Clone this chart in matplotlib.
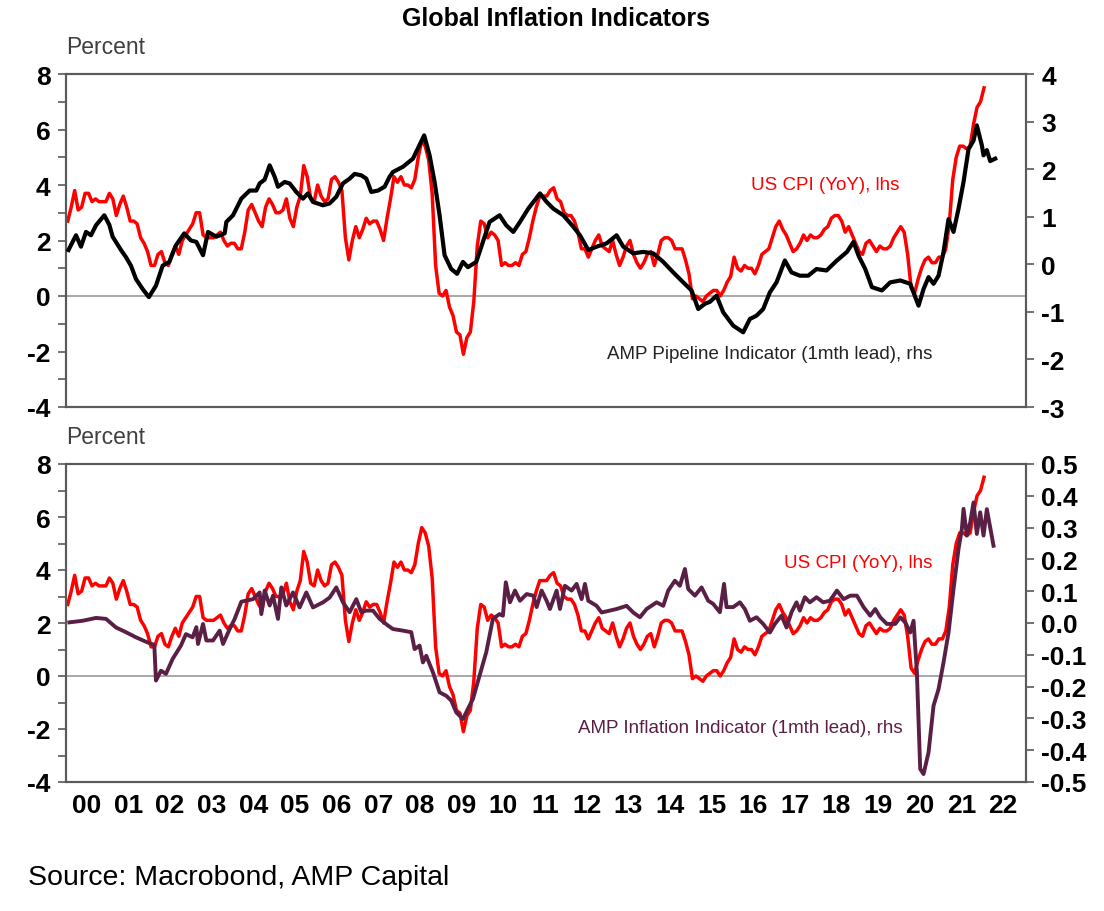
import numpy as np
import matplotlib.pyplot as plt
from matplotlib.ticker import MultipleLocator, FixedLocator, NullFormatter, FuncFormatter

plt.rcParams['font.family'] = ['Liberation Sans', 'DejaVu Sans']
plt.rcParams['axes.unicode_minus'] = False

# US CPI, year-on-year %, monthly from Jan 2000 to Jan 2022 (lhs)
us_cpi = [
    2.7, 3.2, 3.8, 3.1, 3.2, 3.7, 3.7, 3.4, 3.5, 3.4, 3.4, 3.4,
    3.7, 3.5, 2.9, 3.3, 3.6, 3.2, 2.7, 2.7, 2.6, 2.1, 1.9, 1.6,
    1.1, 1.1, 1.5, 1.6, 1.2, 1.1, 1.5, 1.8, 1.5, 2.0, 2.2, 2.4,
    2.6, 3.0, 3.0, 2.2, 2.1, 2.1, 2.1, 2.2, 2.3, 2.0, 1.8, 1.9,
    1.9, 1.7, 1.7, 2.3, 3.1, 3.3, 3.0, 2.7, 2.5, 3.2, 3.5, 3.3,
    3.0, 3.0, 3.1, 3.5, 2.8, 2.5, 3.2, 3.6, 4.7, 4.3, 3.5, 3.4,
    4.0, 3.6, 3.4, 3.5, 4.2, 4.3, 4.1, 3.8, 2.1, 1.3, 2.0, 2.5,
    2.1, 2.4, 2.8, 2.6, 2.7, 2.7, 2.4, 2.0, 2.8, 3.5, 4.3, 4.1,
    4.3, 4.0, 4.0, 3.9, 4.2, 5.0, 5.6, 5.4, 4.9, 3.7, 1.1, 0.1,
    0.0, 0.2, -0.4, -0.7, -1.3, -1.4, -2.1, -1.5, -1.3, -0.2, 1.8, 2.7,
    2.6, 2.1, 2.3, 2.2, 2.0, 1.1, 1.2, 1.1, 1.1, 1.2, 1.1, 1.5,
    1.6, 2.1, 2.7, 3.2, 3.6, 3.6, 3.6, 3.8, 3.9, 3.5, 3.4, 3.0,
    2.9, 2.9, 2.7, 2.3, 1.7, 1.7, 1.4, 1.7, 2.0, 2.2, 1.8, 1.7,
    1.6, 2.0, 1.5, 1.1, 1.4, 1.8, 2.0, 1.5, 1.2, 1.0, 1.2, 1.5,
    1.6, 1.1, 1.5, 2.0, 2.1, 2.1, 2.0, 1.7, 1.7, 1.7, 1.3, 0.8,
    -0.1, 0.0, -0.1, -0.2, 0.0, 0.1, 0.2, 0.2, 0.0, 0.2, 0.5, 0.7,
    1.4, 1.0, 0.9, 1.1, 1.0, 1.0, 0.8, 1.1, 1.5, 1.6, 1.7, 2.1,
    2.5, 2.7, 2.4, 2.2, 1.9, 1.6, 1.7, 1.9, 2.2, 2.0, 2.2, 2.1,
    2.1, 2.2, 2.4, 2.5, 2.8, 2.9, 2.9, 2.7, 2.3, 2.5, 2.2, 1.9,
    1.6, 1.5, 1.9, 2.0, 1.8, 1.6, 1.8, 1.7, 1.7, 1.8, 2.1, 2.3,
    2.5, 2.3, 1.5, 0.3, 0.1, 0.6, 1.0, 1.3, 1.4, 1.2, 1.2, 1.4,
    1.4, 1.7, 2.6, 4.2, 5.0, 5.4, 5.4, 5.3, 5.4, 6.2, 6.8, 7.0,
    7.5,
]

# AMP Pipeline Indicator (1mth lead), rhs of top panel
pipe_x = [
    2000.06, 2000.24, 2000.36, 2000.48, 2000.60, 2000.72, 2000.92, 2001.04, 2001.12, 2001.32,
    2001.44, 2001.56, 2001.68, 2001.84, 2001.99, 2002.16, 2002.32, 2002.48, 2002.64, 2002.84,
    2003.00, 2003.13, 2003.29, 2003.41, 2003.61, 2003.81, 2003.85, 2004.01, 2004.21, 2004.41,
    2004.57, 2004.65, 2004.77, 2004.89, 2005.01, 2005.09, 2005.25, 2005.37, 2005.53, 2005.69,
    2005.81, 2005.93, 2006.17, 2006.33, 2006.49, 2006.65, 2006.81, 2006.93, 2007.09, 2007.21,
    2007.33, 2007.49, 2007.65, 2007.77,
    2007.85, 2008.09, 2008.33, 2008.60, 2008.73, 2008.85, 2008.97, 2009.09, 2009.25, 2009.39,
    2009.53, 2009.65, 2009.85, 2010.01, 2010.17, 2010.41, 2010.57, 2010.74, 2010.90, 2011.10,
    2011.38, 2011.54, 2011.70, 2011.94, 2012.18, 2012.34, 2012.54, 2012.74, 2012.98, 2013.22,
    2013.38, 2013.62, 2013.86, 2014.10, 2014.34, 2014.58, 2014.82, 2015.02, 2015.18, 2015.34,
    2015.46,
    2015.62, 2015.78, 2016.02, 2016.26, 2016.42, 2016.58, 2016.74, 2016.90, 2017.06, 2017.26,
    2017.42, 2017.62, 2017.82, 2018.02, 2018.26, 2018.51, 2018.75, 2018.91, 2019.03, 2019.19,
    2019.35, 2019.59, 2019.79, 2020.03, 2020.27, 2020.47, 2020.59, 2020.71, 2020.83, 2020.95,
    2021.07, 2021.19, 2021.31, 2021.43, 2021.55, 2021.67, 2021.79, 2021.87, 2021.99, 2022.03,
    2022.11, 2022.19, 2022.31,
]
pipe_y = [
    0.30, 0.61, 0.37, 0.68, 0.61, 0.82, 1.03, 0.83, 0.58, 0.30,
    0.15, -0.03, -0.31, -0.52, -0.69, -0.45, -0.03, 0.05, 0.40, 0.65,
    0.50, 0.47, 0.19, 0.68, 0.58, 0.65, 0.89, 1.03, 1.38, 1.55,
    1.55, 1.70, 1.78, 2.08, 1.84, 1.63, 1.73, 1.70, 1.52, 1.38,
    1.49, 1.31, 1.24, 1.28, 1.42, 1.70, 1.80, 1.90, 1.87, 1.80,
    1.52, 1.55, 1.63, 1.84,
    1.94, 2.05, 2.22, 2.71, 2.29, 1.73, 1.03, 0.19, -0.10, -0.20,
    0.05, -0.06, 0.05, 0.47, 0.89, 1.03, 0.82, 0.68, 0.89, 1.17,
    1.49, 1.31, 1.17, 1.03, 0.79, 0.61, 0.30, 0.37, 0.44, 0.61,
    0.37, 0.23, 0.26, 0.23, 0.05, -0.17, -0.38, -0.55, -0.94, -0.83,
    -0.79,
    -0.66, -1.01, -1.29, -1.43, -1.15, -1.08, -0.94, -0.59, -0.38, 0.08,
    -0.17, -0.24, -0.24, -0.10, -0.13, 0.08, 0.26, 0.47, 0.18, -0.10,
    -0.48, -0.55, -0.38, -0.34, -0.41, -0.87, -0.52, -0.27, -0.41, -0.24,
    0.26, 0.95, 0.68, 1.17, 1.73, 2.42, 2.60, 2.92, 2.50, 2.29,
    2.40, 2.17, 2.22,
]

# AMP Inflation Indicator (1mth lead), rhs of bottom panel
infl_x = [
    2000.08, 2000.40, 2000.72, 2000.96, 2001.20, 2001.44, 2001.68, 2001.92, 2002.12, 2002.16,
    2002.28, 2002.40, 2002.56, 2002.76, 2002.88, 2003.04, 2003.13, 2003.17, 2003.29, 2003.37,
    2003.53, 2003.69, 2003.77, 2003.93, 2004.05, 2004.21, 2004.49, 2004.65, 2004.69, 2004.77,
    2004.89, 2004.97, 2005.09, 2005.17, 2005.29, 2005.45, 2005.61, 2005.77, 2005.93, 2006.17,
    2006.33, 2006.49, 2006.65, 2006.81, 2006.97, 2007.09, 2007.21, 2007.37, 2007.53, 2007.73,
    2007.85, 2008.09, 2008.29, 2008.37, 2008.49, 2008.57, 2008.65, 2008.81, 2008.97, 2009.13,
    2009.25, 2009.37, 2009.53, 2009.65, 2009.77, 2009.93, 2010.09, 2010.25, 2010.41, 2010.49,
    2010.56, 2010.66, 2010.78, 2010.90, 2011.06, 2011.22, 2011.30, 2011.42, 2011.54, 2011.62,
    2011.78, 2011.86, 2011.98, 2012.14, 2012.26, 2012.38, 2012.46, 2012.54, 2012.74, 2012.86,
    2013.06, 2013.22, 2013.46, 2013.62, 2013.78, 2013.94, 2014.18, 2014.34, 2014.46, 2014.62,
    2014.74, 2014.86, 2014.94, 2015.10, 2015.26, 2015.42,
    2015.54, 2015.70, 2015.80, 2015.86, 2016.02, 2016.18, 2016.30, 2016.42, 2016.58, 2016.74,
    2016.90, 2017.02, 2017.18, 2017.30, 2017.42, 2017.54, 2017.62, 2017.74, 2017.86, 2018.02,
    2018.18, 2018.34, 2018.51, 2018.67, 2018.83, 2018.99, 2019.15, 2019.31, 2019.43, 2019.55,
    2019.71, 2019.91, 2020.03, 2020.15, 2020.27, 2020.35, 2020.43, 2020.51, 2020.59, 2020.71,
    2020.83, 2020.95, 2021.07, 2021.19, 2021.31, 2021.43, 2021.51, 2021.55, 2021.63, 2021.71,
    2021.79, 2021.87, 2021.95, 2022.03, 2022.11, 2022.19, 2022.27,
]
infl_y = [
    0.002, 0.007, 0.016, 0.013, -0.014, -0.029, -0.045, -0.059, -0.069, -0.181,
    -0.150, -0.160, -0.113, -0.071, -0.035, -0.045, -0.013, -0.066, -0.003, -0.055,
    -0.055, -0.024, -0.066, -0.019, 0.013, 0.067, 0.075, 0.096, 0.028, 0.102,
    0.055, 0.086, 0.013, 0.112, 0.055, 0.096, 0.049, 0.096, 0.049, 0.065,
    0.080, 0.112, 0.065, 0.034, 0.075, 0.034, 0.039, 0.039, 0.013, -0.008,
    -0.019, -0.024, -0.029, -0.082, -0.071, -0.124, -0.103, -0.155, -0.218, -0.229,
    -0.244, -0.281, -0.302, -0.270, -0.239, -0.166, -0.092, 0.013, 0.028, 0.023,
    0.128, 0.065, 0.102, 0.070, 0.091, 0.086, 0.050, 0.102, 0.070, 0.044,
    0.102, 0.044, 0.117, 0.102, 0.123, 0.075, 0.123, 0.070, 0.054, 0.033,
    0.039, 0.044, 0.054, 0.033, 0.018, 0.044, 0.065, 0.054, 0.102, 0.133,
    0.117, 0.170, 0.107, 0.086, 0.112, 0.070,
    0.060, 0.034, 0.123, 0.050, 0.050, 0.065, 0.044, 0.007, 0.018, -0.003,
    -0.030, -0.003, 0.023, -0.014, 0.034, 0.065, 0.039, 0.081, 0.065, 0.081,
    0.065, 0.070, 0.102, 0.075, 0.086, 0.086, 0.050, 0.023, 0.044, 0.018,
    -0.003, -0.003, 0.018, 0.002, -0.030, 0.007, -0.155, -0.459, -0.475, -0.407,
    -0.260, -0.208, -0.124, -0.030, 0.107, 0.233, 0.296, 0.359, 0.275, 0.316,
    0.379, 0.280, 0.348, 0.275, 0.358, 0.301, 0.243,
]

year_ticks = list(range(2001, 2023))
year_labels = ['%02d' % (y % 100) for y in range(2000, 2023)]

RED = '#ff0000'
PURPLE = '#5a1f45'
SPINE = '#5a5a5a'

W, H = 1104, 912
fig = plt.figure(figsize=(W / 100, H / 100), dpi=100)


def frac(x, y):
    return x / W, 1 - y / H


def style_axes(ax, axr, rlim, rstep, rfmt):
    ax.set_xlim(2000, 2023.05)
    ax.set_ylim(-4, 8)
    ax.yaxis.set_major_locator(MultipleLocator(2))
    ax.yaxis.set_minor_locator(MultipleLocator(1))
    ax.yaxis.set_major_formatter(FuncFormatter(lambda v, p: '%d' % v))
    ax.tick_params(axis='y', which='both', direction='out', length=6, width=1.2,
                   color=SPINE, labelsize=19, pad=5)
    axr.set_ylim(*rlim)
    axr.yaxis.set_major_locator(MultipleLocator(rstep))
    axr.yaxis.set_major_formatter(FuncFormatter(rfmt))
    axr.tick_params(axis='y', direction='out', length=6, width=1.2, color=SPINE,
                    labelsize=19, pad=5)
    for a in (ax, axr):
        for s in a.spines.values():
            s.set_color(SPINE)
            s.set_linewidth(1.5)
        for lab in a.get_yticklabels():
            lab.set_fontweight('bold')
    ax.axhline(0, color='#9a9a9a', lw=1.2, zorder=1)


cpi_x = 2000 + (np.arange(len(us_cpi)) + 0.5) / 12

# top panel
ax1 = fig.add_axes([66 / W, 1 - 408 / H, 960 / W, 333 / H])
ax1r = ax1.twinx()
ax1.plot(cpi_x, us_cpi, color=RED, lw=2.5, zorder=3)
ax1r.plot(pipe_x, pipe_y, color='black', lw=3.0, zorder=3)
style_axes(ax1, ax1r, (-3, 4), 1, lambda v, p: '%d' % round(v))
for a in (ax1, ax1r):
    a.set_xticks([])

# bottom panel
ax2 = fig.add_axes([66 / W, 1 - 783 / H, 960 / W, 318 / H])
ax2r = ax2.twinx()
ax2.plot(cpi_x, us_cpi, color=RED, lw=2.5, zorder=3)
ax2r.plot(infl_x, infl_y, color=PURPLE, lw=2.8, zorder=3)
style_axes(ax2, ax2r, (-0.5, 0.5), 0.1, lambda v, p: '%.1f' % (0.0 if abs(v) < 1e-9 else v))
ax2.xaxis.set_major_locator(FixedLocator(year_ticks))
ax2.xaxis.set_major_formatter(NullFormatter())
ax2.xaxis.set_minor_locator(FixedLocator([y + 0.5 for y in range(2000, 2023)]))
ax2.set_xticklabels(year_labels, minor=True, fontsize=19, fontweight='bold')
ax2.tick_params(axis='x', which='major', direction='in', length=6, width=1.2, color=SPINE)
ax2.tick_params(axis='x', which='minor', length=0, pad=8)
ax2r.set_xticks([])

# texts
fig.text(*frac(556, 19), 'Global Inflation Indicators', ha='center', va='center',
         fontsize=18, fontweight='bold')
fig.text(*frac(66, 47), 'Percent', ha='left', va='center', fontsize=16.5, color='#404040')
fig.text(*frac(66, 437), 'Percent', ha='left', va='center', fontsize=16.5, color='#404040')
fig.text(*frac(825, 186), 'US CPI (YoY), lhs', ha='center', va='center', fontsize=13.5, color=RED)
fig.text(*frac(770, 355), 'AMP Pipeline Indicator (1mth lead), rhs', ha='center', va='center',
         fontsize=13.5, color='#222222')
fig.text(*frac(858, 563), 'US CPI (YoY), lhs', ha='center', va='center', fontsize=13.5, color=RED)
fig.text(*frac(740, 729), 'AMP Inflation Indicator (1mth lead), rhs', ha='center', va='center',
         fontsize=13.5, color=PURPLE)
fig.text(*frac(28, 878), 'Source: Macrobond, AMP Capital', ha='left', va='center', fontsize=20.5)

fig.savefig('out.png', dpi=100)
